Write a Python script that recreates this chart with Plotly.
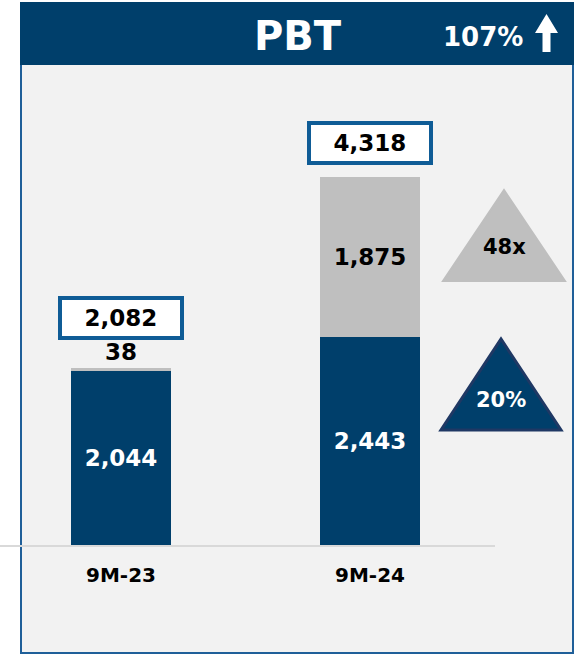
import plotly.graph_objects as go

W, H = 577, 655

categories = ["9M-23", "9M-24"]
base_values = [2044, 2443]
other_values = [38, 1875]
totals = [2082, 4318]
growth_labels = ["48x", "20%"]
title_text = "PBT"
headline_growth = "107%"

NAVY = "#003F6B"
GREY = "#BFBFBF"
PANEL = "#F2F2F2"
BORDER = "#1F5F99"
BOXBORDER = "#0F5C96"
FONT = "DejaVu Sans"


def px(x):
    return x / W


def py(y):
    return 1 - y / H


fig = go.Figure()

fig.add_trace(go.Bar(
    x=categories, y=base_values, marker=dict(color=NAVY, line=dict(width=0)),
    width=0.40, text=[f"{v:,}" for v in base_values], textposition="inside",
    insidetextanchor="middle", textangle=0,
    textfont=dict(family=FONT, size=23, color="white", weight="bold"),
    constraintext="none", cliponaxis=False, showlegend=False, hoverinfo="skip"))

fig.add_trace(go.Bar(
    x=categories, y=other_values, marker=dict(color=GREY, line=dict(width=0)),
    width=0.40, text=[f"{v:,}" for v in other_values],
    textposition=["outside", "inside"], insidetextanchor="middle", textangle=0,
    textfont=dict(family=FONT, size=23, color="black", weight="bold"),
    outsidetextfont=dict(family=FONT, size=23, color="black", weight="bold"),
    constraintext="none", cliponaxis=False, showlegend=False, hoverinfo="skip"))

annotations = []
shifts = [28, 12]
for c, t, s in zip(categories, totals, shifts):
    annotations.append(dict(
        x=c, y=t, xref="x", yref="y", yanchor="bottom", xanchor="center", yshift=s,
        text=f"<b>{t:,}</b>", showarrow=False,
        font=dict(family=FONT, size=23, color="black"),
        bgcolor="white", bordercolor=BOXBORDER, borderwidth=4, borderpad=3,
        width=112, height=30))

# header texts
annotations.append(dict(x=px(298), y=py(36), xref="paper", yref="paper",
                        xanchor="center", yanchor="middle",
                        text=f"<b>{title_text}</b>", showarrow=False,
                        font=dict(family=FONT, size=40, color="white")))
annotations.append(dict(x=px(482.5), y=py(37), xref="paper", yref="paper",
                        xanchor="center", yanchor="middle",
                        text=f"<b>{headline_growth}</b>", showarrow=False,
                        font=dict(family=FONT, size=26, color="white")))

# growth triangle labels
annotations.append(dict(x=px(504), y=py(247), xref="paper", yref="paper",
                        xanchor="center", yanchor="middle",
                        text=f"<b>{growth_labels[0]}</b>", showarrow=False,
                        font=dict(family=FONT, size=21, color="black")))
annotations.append(dict(x=px(501), y=py(400), xref="paper", yref="paper",
                        xanchor="center", yanchor="middle",
                        text=f"<b>{growth_labels[1]}</b>", showarrow=False,
                        font=dict(family=FONT, size=21, color="white")))

shapes = [
    # panel
    dict(type="rect", xref="paper", yref="paper", x0=px(21), x1=px(573), y0=py(653), y1=py(3),
         fillcolor=PANEL, line=dict(color=BORDER, width=2), layer="below"),
    # header
    dict(type="rect", xref="paper", yref="paper", x0=px(20), x1=px(574), y0=py(65), y1=py(2),
         fillcolor=NAVY, line=dict(width=0), layer="below"),
]


def tri(xl, xr, xa, ytop, ybase):
    return (f"M {px(xl)} {py(ybase)} L {px(xr)} {py(ybase)} L {px(xa)} {py(ytop)} Z")


shapes.append(dict(type="path", xref="paper", yref="paper", path=tri(443, 565, 504, 190, 281),
                   fillcolor=GREY, line=dict(color=GREY, width=2), layer="above"))
shapes.append(dict(type="path", xref="paper", yref="paper", path=tri(441, 561, 501, 339, 430),
                   fillcolor=NAVY, line=dict(color="#1F3864", width=3), layer="above"))

# header arrow
ax = 546.5
arrow = (f"M {px(ax-4)} {py(52)} L {px(ax+4)} {py(52)} L {px(ax+4)} {py(33)} "
         f"L {px(ax+11.5)} {py(33)} L {px(ax)} {py(14)} L {px(ax-11.5)} {py(33)} "
         f"L {px(ax-4)} {py(33)} Z")
shapes.append(dict(type="path", xref="paper", yref="paper", path=arrow,
                   fillcolor="white", line=dict(width=0), layer="above"))

ytop_val = 479 / 0.0852

fig.update_layout(
    width=W, height=H, margin=dict(l=0, r=0, t=0, b=0),
    paper_bgcolor="white", plot_bgcolor="rgba(0,0,0,0)",
    barmode="stack", bargap=0, showlegend=False,
    xaxis=dict(domain=[0, 495 / W], range=[-0.486, 1.502], type="category",
               showline=True, linecolor="#D9D9D9", linewidth=2, showgrid=False,
               zeroline=False, ticks="", ticklabelstandoff=11,
               tickfont=dict(family=FONT, size=20, color="black", weight="bold"),
               fixedrange=True),
    yaxis=dict(domain=[(H - 545) / H, (H - 66) / H], range=[0, ytop_val],
               visible=False, showgrid=False, zeroline=False, fixedrange=True),
    annotations=annotations, shapes=shapes,
)

fig.write_html("out.html", config=dict(displayModeBar=False),
               post_script="document.body.style.margin='0';")
